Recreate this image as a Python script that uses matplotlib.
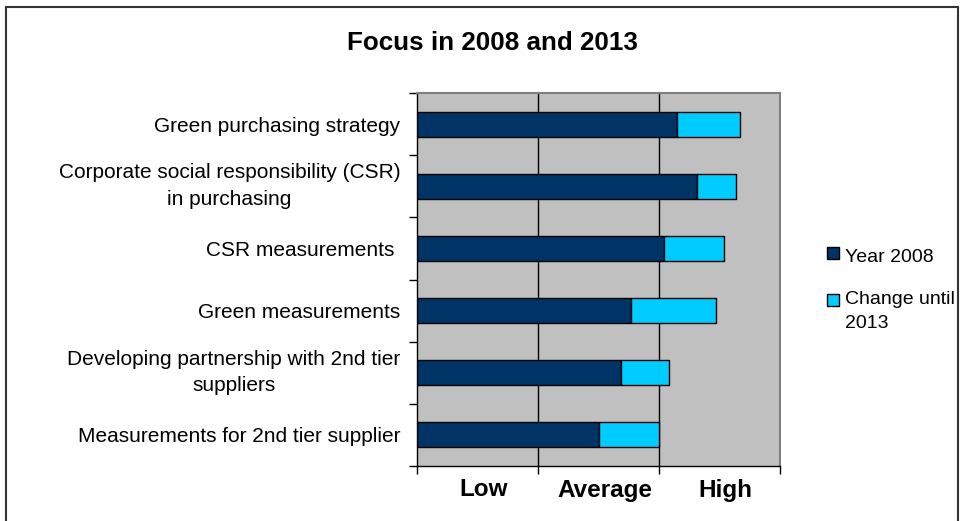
import matplotlib.pyplot as plt
from matplotlib.patches import Rectangle
from matplotlib.transforms import ScaledTranslation

plt.rcParams['font.family'] = ['Liberation Sans', 'DejaVu Sans']

categories = [
    "Green purchasing strategy",
    "Corporate social responsibility (CSR)\nin purchasing",
    "CSR measurements ",
    "Green measurements",
    "Developing partnership with 2nd tier\nsuppliers",
    "Measurements for 2nd tier supplier",
]
year_2008 = [2.15, 2.31, 2.04, 1.77, 1.69, 1.50]
change_2013 = [0.52, 0.33, 0.50, 0.70, 0.39, 0.50]
level_labels = ["Low", "Average", "High"]
series_names = ["Year 2008", "Change until\n2013"]

dark = "#003366"
light = "#00CCFF"

fig = plt.figure(figsize=(9.61, 5.21), dpi=100)
ax = fig.add_axes([417 / 961, 1 - 466 / 521, 363 / 961, 373 / 521])
ax.set_facecolor("#C0C0C0")

pos = list(range(len(categories)))
ax.barh(pos, year_2008, height=0.4, color=dark, edgecolor="black", linewidth=1, zorder=3)
ax.barh(pos, change_2013, left=year_2008, height=0.4, color=light, edgecolor="black",
        linewidth=1, zorder=3)

ax.set_xlim(0, 3)
ax.set_ylim(len(categories) - 0.5, -0.5)

# vertical grid at the level boundaries
for x in [1, 2]:
    ax.axvline(x, color="black", linewidth=1, zorder=1)

# labels sit between the ticks
ax.set_yticks(pos)
ax.set_yticklabels(categories, fontsize=15, multialignment="center", linespacing=1.5)
ax.set_yticks([p - 0.5 for p in pos] + [len(pos) - 0.5], minor=True)
ax.tick_params(axis="y", which="major", length=0, pad=12)
ax.tick_params(axis="y", which="minor", length=6, width=1, direction="out")
up = ScaledTranslation(0, 6 / 100, fig.dpi_scale_trans)
for lbl in ax.get_yticklabels():
    if "\n" in lbl.get_text():
        lbl.set_transform(lbl.get_transform() + up)

ax.set_xticks([0.5, 1.5, 2.5])
ax.set_xticklabels(level_labels, fontsize=17.5, fontweight="bold")
ax.set_xticks([0, 1, 2, 3], minor=True)
ax.tick_params(axis="x", which="major", length=0, pad=9)
ax.tick_params(axis="x", which="minor", length=6, width=1, direction="out")
shift = ScaledTranslation(6 / 100, 0, fig.dpi_scale_trans)
for lbl in ax.get_xticklabels():
    lbl.set_transform(lbl.get_transform() + shift)

for side in ["left", "bottom"]:
    ax.spines[side].set_color("black")
    ax.spines[side].set_linewidth(1)
for side in ["top", "right"]:
    ax.spines[side].set_color("#808080")
    ax.spines[side].set_linewidth(1.5)

fig.text(492 / 961, 1 - 43 / 521, "Focus in 2008 and 2013", ha="center", va="center",
         fontsize=18.7, fontweight="bold")

# legend: small squares with labels, first line of each label next to its square
for name, col, sq_y, txt_y in zip(series_names, [dark, light], [253, 300], [259, 301]):
    fig.patches.append(Rectangle((827 / 961, 1 - (sq_y + 6) / 521), 12 / 961, 12 / 521,
                                 transform=fig.transFigure, facecolor=col,
                                 edgecolor="black", linewidth=1))
    fig.text(845 / 961, 1 - (txt_y - 10) / 521, name, ha="left", va="top", fontsize=14,
             linespacing=1.55)

# outer chart frame
fig.patches.append(Rectangle((6 / 961, -0.1), 952 / 961, 1.1 - 7 / 521,
                             transform=fig.transFigure, fill=False,
                             edgecolor="#333333", linewidth=1.5))

fig.savefig("out.png", dpi=100)
